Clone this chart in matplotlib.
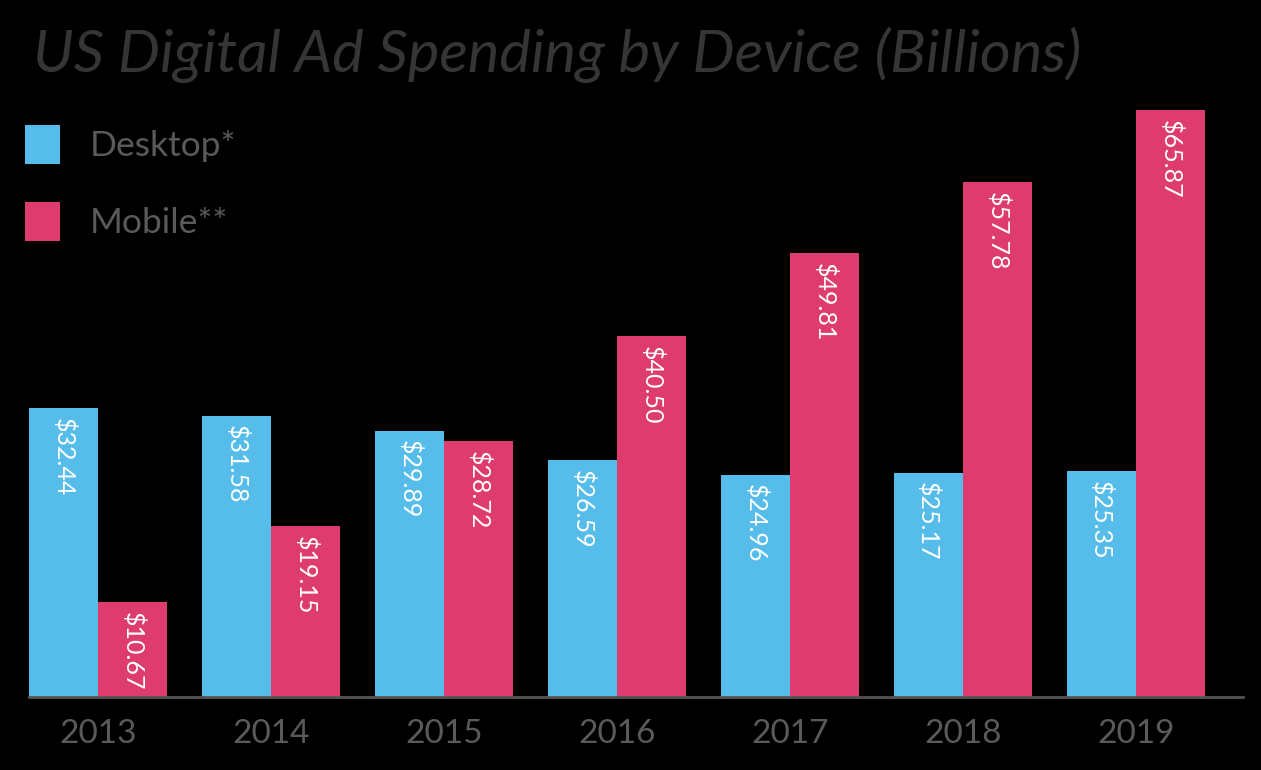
import matplotlib.pyplot as plt
import numpy as np

# --- Data ---
years = ["2013", "2014", "2015", "2016", "2017", "2018", "2019"]
desktop = [32.44, 31.58, 29.89, 26.59, 24.96, 25.17, 25.35]
mobile = [10.67, 19.15, 28.72, 40.50, 49.81, 57.78, 65.87]
series_names = ["Desktop*", "Mobile**"]

# --- Style ---
BLUE = "#56BDEB"
PINK = "#DE3B6F"
GRAY = "#5a5a5a"
FONT = ["Lato", "DejaVu Sans"]

fig = plt.figure(figsize=(12.61, 7.70), dpi=100, facecolor="black")
ax = fig.add_axes([0.023, 0.0948, 0.9627, 0.81])
ax.set_facecolor("black")

x = np.arange(len(years))
w = 0.4
b1 = ax.bar(x - w / 2, desktop, w, color=BLUE, label=series_names[0])
b2 = ax.bar(x + w / 2, mobile, w, color=PINK, label=series_names[1])

for bars, vals in [(b1, desktop), (b2, mobile)]:
    for rect, v in zip(bars, vals):
        ax.annotate(f"${v:.2f}", (rect.get_x() + rect.get_width() / 2, v),
                    xytext=(0, -7), textcoords="offset points",
                    rotation=-90, ha="center", va="top",
                    color="white", fontsize=18, family=FONT)

ax.set_xlim(-0.4, 6.62)
ax.set_ylim(0, 70)
ax.set_yticks([])
ax.set_xticks(x)
ax.set_xticklabels(years, fontsize=24, color=GRAY, family=FONT)
ax.tick_params(axis="x", length=0, pad=16)
for side in ["top", "right", "left"]:
    ax.spines[side].set_visible(False)
ax.spines["bottom"].set_color("#555555")
ax.spines["bottom"].set_linewidth(2)

fig.text(0.026, 0.9065, "US Digital Ad Spending by Device (Billions)",
         fontsize=42.8, style="italic", fontweight="normal", color="#353535",
         family=FONT, va="baseline")

fig.legend(handles=[b1, b2], loc="upper left", bbox_to_anchor=(0.02, 0.838),
           frameon=False, labelcolor=GRAY, handlelength=0.98,
           handleheight=1.35, labelspacing=1.05, handletextpad=0.85,
           borderaxespad=0, borderpad=0, prop={"family": FONT, "size": 25.5})

fig.savefig("out.png", dpi=100, facecolor="black")
